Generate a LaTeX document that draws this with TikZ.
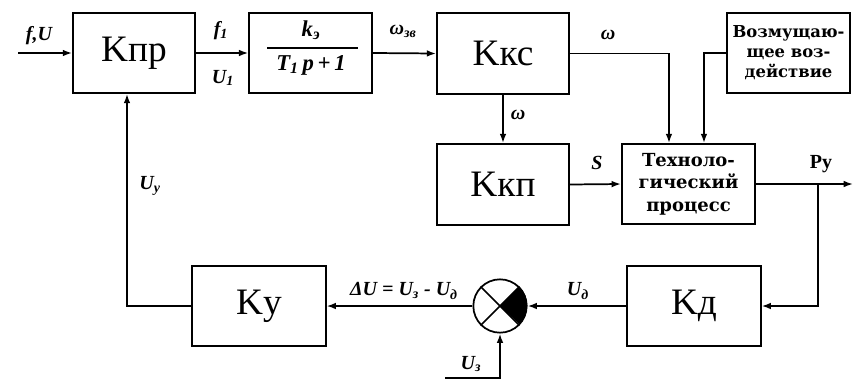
\documentclass[tikz,border=0pt]{standalone}
\usepackage{fontspec}
\setmainfont{Liberation Serif}
\newfontfamily\boxfont{DejaVu Serif}
\usetikzlibrary{arrows.meta,calc}
\begin{document}
\begin{tikzpicture}[x=0.75pt,y=-0.75pt,
  line width=1.3pt,
  blk/.style={draw,line width=1.3pt,rectangle,inner sep=0pt},
  big/.style={font=\fontsize{28}{30}\selectfont},
  lbl/.style={font=\fontsize{15}{17}\selectfont\bfseries\itshape,inner sep=0pt},
  txt/.style={font=\boxfont\fontsize{12.3}{15}\selectfont\bfseries,align=center,inner sep=0pt},
  arr/.style={-{Latex[length=7pt,width=5pt]}}]
\useasboundingbox (0,0) rectangle (853,383);
% blocks
\node[blk,big,minimum width=91.5pt,minimum height=60pt] (kpr) at (134,53) {Kпр};
\node[blk,minimum width=92pt,minimum height=60pt] (tf) at (310.5,53) {};
\node[blk,big,minimum width=99pt,minimum height=60.75pt] (kks) at (503,53.5) {Kкс};
\node[blk,txt,minimum width=92pt,minimum height=60pt] (voz) at (788.5,53) {Возмущаю-\\щее воз-\\действие};
\node[blk,big,minimum width=99pt,minimum height=60.75pt] (kkp) at (503,184.5) {Kкп};
\node[blk,txt,font=\boxfont\fontsize{13.5}{17}\selectfont\bfseries,minimum width=100pt,minimum height=60pt] (tech) at (688.5,184) {Техноло-\\гический\\процесс};
\node[blk,big,minimum width=100pt,minimum height=60pt] (ky) at (259,306) {Kу};
\node[blk,big,minimum width=100pt,minimum height=60pt] (kd) at (694,306) {Kд};
\node[draw,circle,line width=1.3pt,minimum size=40pt,inner sep=0pt] (sum) at (500,306) {};
\fill (sum.center) -- (sum.north east) arc[start angle=45,end angle=-45,radius=20pt] -- cycle;
\draw (sum.north east) -- (sum.south west);
\draw (sum.north west) -- (sum.south east);
% transfer function
\node[lbl,font=\fontsize{17}{19}\selectfont\bfseries\itshape] (num) at (311,30) {k\textsubscript{э}};
\node[lbl,font=\fontsize{17}{19}\selectfont\bfseries\itshape] (den) at (311,65) {T\textsubscript{1}\,p\,+\,1};
\draw[line width=1.2pt] (267,48) -- (358,48);
% coordinates
\coordinate (in) at (18,53);
\coordinate (out) at (853,184);
\coordinate (br) at (818,184);
\coordinate (uz) at (445,378);
% connectors
\draw[arr] (in) -- (kpr.west);
\draw[arr] (kpr.east) -- (tf.west);
\draw[arr] (tf.east) -- (kks.west);
\draw[arr] (kks.east) -| ($(tech.north west)+(48,0)$);
\draw[arr] (voz.west) -| ($(tech.north west)+(83,0)$);
\draw[arr] (kks.south) -- (kkp.north);
\draw[arr] (kkp.east) -- (tech.west);
\draw[arr] (tech.east) -- (out);
\draw[arr] (br) |- (kd.east);
\draw[arr] (kd.west) -- (sum.east);
\draw[arr] (sum.west) -- (ky.east);
\draw[arr] (ky.west) -| ($(kpr.south)+(-7,0)$);
\draw[arr] (uz) -| (sum.south);
% labels
\node[lbl] (lfu) at (39,36) {f,U};
\node[lbl] (lf1) at (221,31) {f\textsubscript{1}};
\node[lbl] (lu1) at (223,78) {U\textsubscript{1}};
\node[lbl] (lwz) at (403,31) {ω\textsubscript{зв}};
\node[lbl] (lw1) at (608,35) {ω};
\node[lbl] (lw2) at (518,115) {ω};
\node[lbl] (ls) at (597,163) {S};
\node[font=\fontsize{15}{17}\selectfont\bfseries,inner sep=0pt] (lpy) at (821,164) {Pу};
\node[lbl] (luy) at (150,186) {U\textsubscript{у}};
\node[lbl] (ldu) at (404,291) {ΔU = U\textsubscript{з} - U\textsubscript{д}};
\node[lbl] (lud) at (578,291) {U\textsubscript{д}};
\node[lbl] (luz) at (471,364) {U\textsubscript{з}};
\end{tikzpicture}
\end{document}
